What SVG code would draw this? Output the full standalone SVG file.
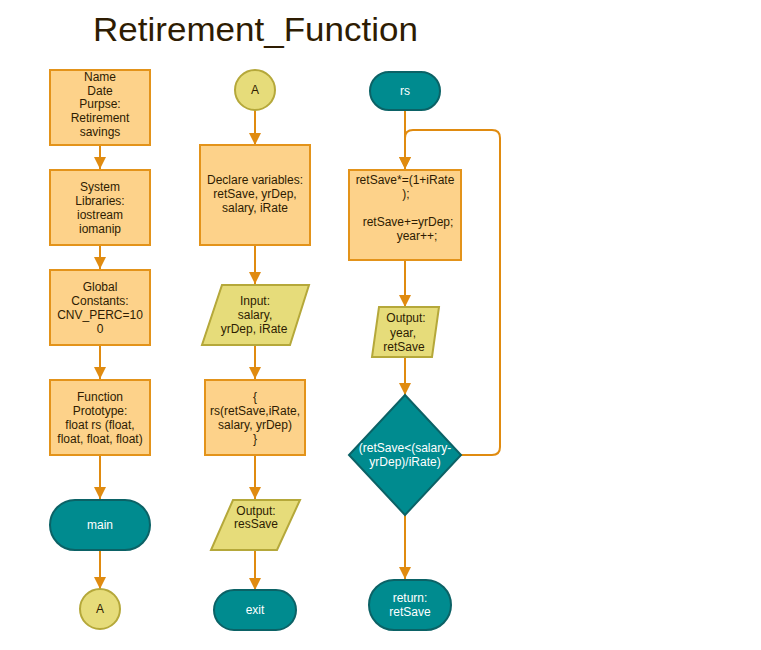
<svg xmlns="http://www.w3.org/2000/svg" width="761" height="650" viewBox="0 0 761 650">
<defs>
<style>
.proc{fill:#FDD28A;stroke:#E3931A;stroke-width:2}
.io{fill:#E6DC7A;stroke:#B5A83A;stroke-width:2}
.term{fill:#008B8F;stroke:#0B6266;stroke-width:2}
.t{font-family:"Liberation Sans",Arial,sans-serif;font-size:12px;fill:#2e1c02;text-anchor:middle}
.w{font-family:"Liberation Sans",Arial,sans-serif;font-size:12px;fill:#ffffff;text-anchor:middle}
.c{fill:none;stroke:#E08B10;stroke-width:2}
</style>
<marker id="ah" viewBox="0 0 12 12" refX="12" refY="6" markerWidth="12" markerHeight="12" markerUnits="userSpaceOnUse" orient="auto">
<path d="M0,0 L12,6 L0,12 z" fill="#E08B10"/>
</marker>
</defs>
<rect width="761" height="650" fill="#ffffff"/>
<text x="93" y="41" font-family="'Liberation Sans',Arial,sans-serif" font-size="34" textLength="325" lengthAdjust="spacingAndGlyphs" fill="#2e1c02">Retirement_Function</text>

<g id="connectors">
<path class="c" d="M100,145 V169" marker-end="url(#ah)"/>
<path class="c" d="M100,245 V269" marker-end="url(#ah)"/>
<path class="c" d="M100,345 V379" marker-end="url(#ah)"/>
<path class="c" d="M100,455 V499" marker-end="url(#ah)"/>
<path class="c" d="M100,550 V589" marker-end="url(#ah)"/>
<path class="c" d="M255,110 V145" marker-end="url(#ah)"/>
<path class="c" d="M255,245 V284" marker-end="url(#ah)"/>
<path class="c" d="M255,345 V379" marker-end="url(#ah)"/>
<path class="c" d="M255,455 V499" marker-end="url(#ah)"/>
<path class="c" d="M255,550 V590" marker-end="url(#ah)"/>
<path class="c" d="M405,110 V169" marker-end="url(#ah)"/>
<path class="c" d="M405,260 V307" marker-end="url(#ah)"/>
<path class="c" d="M405,357 V395" marker-end="url(#ah)"/>
<path class="c" d="M405,515 V579" marker-end="url(#ah)"/>
<path class="c" d="M461,455 H492 Q500,455 500,447 V138 Q500,130 492,130 H413 Q405,130 405,138 V169" marker-end="url(#ah)"/>
</g>

<g id="n_header">
<rect class="proc" x="50" y="70" width="100" height="75"/>
<text class="t" x="100" y="81">Name</text>
<text class="t" x="100" y="95">Date</text>
<text class="t" x="100" y="108">Purpse:</text>
<text class="t" x="100" y="122">Retirement</text>
<text class="t" x="100" y="136">savings</text>
</g>
<g id="n_libs">
<rect class="proc" x="50" y="170" width="100" height="75"/>
<text class="t" x="100" y="191">System</text>
<text class="t" x="100" y="205">Libraries:</text>
<text class="t" x="100" y="219">iostream</text>
<text class="t" x="100" y="233">iomanip</text>
</g>
<g id="n_consts">
<rect class="proc" x="50" y="270" width="100" height="75"/>
<text class="t" x="100" y="291">Global</text>
<text class="t" x="100" y="305">Constants:</text>
<text class="t" x="100" y="319">CNV_PERC=10</text>
<text class="t" x="100" y="333">0</text>
</g>
<g id="n_proto">
<rect class="proc" x="50" y="380" width="100" height="75"/>
<text class="t" x="100" y="401">Function</text>
<text class="t" x="100" y="415">Prototype:</text>
<text class="t" x="100" y="429">float rs (float,</text>
<text class="t" x="100" y="443">float, float, float)</text>
</g>
<g id="n_main">
<rect class="term" x="50" y="500" width="100" height="50" rx="25"/>
<text class="w" x="100" y="529">main</text>
</g>
<g id="n_A1">
<circle class="io" cx="100" cy="609" r="20"/>
<text class="t" x="100" y="613">A</text>
</g>

<g id="n_A2">
<circle class="io" cx="255" cy="90" r="20"/>
<text class="t" x="255" y="94">A</text>
</g>
<g id="n_declare">
<rect class="proc" x="200" y="145" width="110" height="100"/>
<text class="t" x="255" y="184">Declare variables:</text>
<text class="t" x="255" y="198">retSave, yrDep,</text>
<text class="t" x="255" y="212">salary, iRate</text>
</g>
<g id="n_input">
<polygon class="io" points="222,285 309,285 290,345 202,345"/>
<text class="t" x="255" y="305">Input:</text>
<text class="t" x="255" y="319">salary,</text>
<text class="t" x="254" y="333">yrDep, iRate</text>
</g>
<g id="n_call">
<rect class="proc" x="205" y="380" width="100" height="75"/>
<text class="t" x="255" y="401">{</text>
<text class="t" x="255" y="415">rs(retSave,iRate,</text>
<text class="t" x="255" y="429">salary, yrDep)</text>
<text class="t" x="255" y="443">}</text>
</g>
<g id="n_output1">
<polygon class="io" points="233,500 300,500 277,550 211,550"/>
<text class="t" x="256" y="515">Output:</text>
<text class="t" x="256" y="528">resSave</text>
</g>
<g id="n_exit">
<rect class="term" x="214" y="590" width="82" height="40" rx="20"/>
<text class="w" x="255" y="614">exit</text>
</g>

<g id="n_rs">
<rect class="term" x="370" y="72" width="70" height="38" rx="19"/>
<text class="w" x="405" y="95">rs</text>
</g>
<g id="n_calc">
<rect class="proc" x="349" y="170" width="112" height="90"/>
<text class="t" x="405" y="184">retSave*=(1+iRate</text>
<text class="t" x="406" y="198">);</text>
<text class="t" x="408" y="226">retSave+=yrDep;</text>
<text class="t" x="417" y="240">year++;</text>
</g>
<g id="n_output2">
<polygon class="io" points="379,307 439,307 432,357 372,357"/>
<text class="t" x="406" y="322">Output:</text>
<text class="t" x="403" y="337">year,</text>
<text class="t" x="404" y="351">retSave</text>
</g>
<g id="n_decision">
<polygon class="term" points="405,395 461,455 405,515 349,455"/>
<text class="w" x="405" y="452">(retSave&lt;(salary-</text>
<text class="w" x="405" y="466">yrDep)/iRate)</text>
</g>
<g id="n_return">
<rect class="term" x="369" y="580" width="82" height="50" rx="25"/>
<text class="w" x="410" y="602">return:</text>
<text class="w" x="410" y="616">retSave</text>
</g>
</svg>
